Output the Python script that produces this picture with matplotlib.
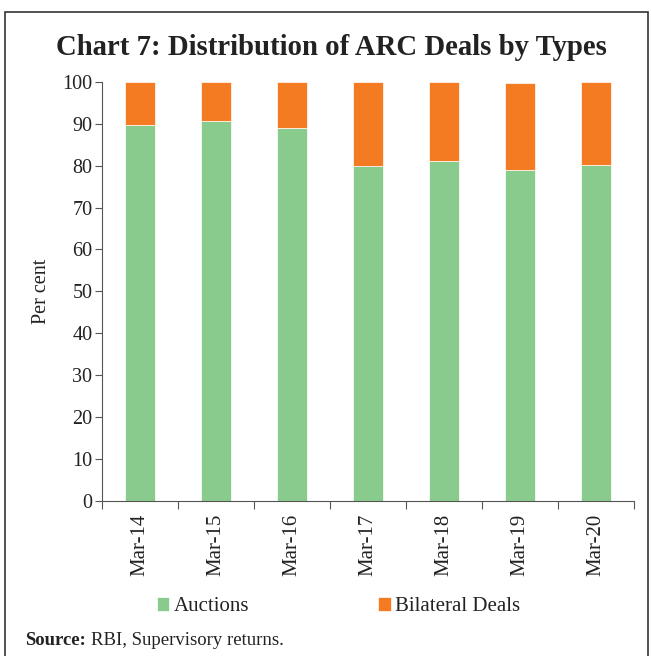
import matplotlib.pyplot as plt
import numpy as np
from matplotlib.patches import Rectangle

# Data (per cent)
years = ['Mar-14', 'Mar-15', 'Mar-16', 'Mar-17', 'Mar-18', 'Mar-19', 'Mar-20']
auctions = [89.8, 90.6, 88.9, 80.0, 81.0, 79.0, 80.2]
bilateral = [10.2, 9.4, 11.1, 20.0, 19.0, 20.8, 19.8]

GREEN = '#89cb8c'
ORANGE = '#f47b22'
TXT = '#222222'
SERIF = ['Liberation Serif', 'DejaVu Serif']

fig = plt.figure(figsize=(6.51, 6.56), dpi=100)
ax = fig.add_axes([0.1567, 0.2363, 0.817, 0.639])

x = np.arange(len(years))
ax.bar(x, auctions, width=0.40, color=GREEN, edgecolor='white', linewidth=0.5, label='Auctions')
ax.bar(x, bilateral, width=0.40, bottom=auctions, color=ORANGE, edgecolor='white', linewidth=0.5,
       label='Bilateral Deals')

ax.set_xlim(-0.5, len(years) - 0.5)
ax.set_ylim(0, 100)
ax.set_yticks(range(0, 101, 10))
ax.set_yticklabels([str(v) for v in range(0, 101, 10)], fontsize=14.5, family=SERIF, color=TXT)
ax.set_ylabel('Per cent', fontsize=14.5, family=SERIF, color=TXT, labelpad=8)

# category ticks at boundaries, labels centred
ax.set_xticks(np.arange(-0.5, len(years)))
ax.set_xticklabels([])
ax.set_xticks(x, minor=True)
ax.set_xticklabels(years, minor=True, rotation=90, fontsize=15, family=SERIF, color=TXT)
ax.tick_params(axis='x', which='minor', length=0, pad=9)
ax.tick_params(axis='x', which='major', length=6, color='#555555')
ax.tick_params(axis='y', length=5, color='#555555', pad=2)

for s in ['top', 'right']:
    ax.spines[s].set_visible(False)
for s in ['left', 'bottom']:
    ax.spines[s].set_color('#555555')

fig.text(0.509, 0.928, 'Chart 7: Distribution of ARC Deals by Types', ha='center', va='center',
         fontsize=20.7, fontweight='bold', family=SERIF, color=TXT)

fig.legend(loc='center', bbox_to_anchor=(0.52, 0.075), ncol=2, frameon=False,
           prop={'family': SERIF, 'size': 15}, handlelength=0.62, handleheight=0.62,
           handletextpad=0.2, columnspacing=6.2, labelcolor=TXT)

fig.text(0.038, 0.023, 'Source:', fontsize=13.5, fontweight='bold', family=SERIF,
         color=TXT, va='center')
fig.text(0.140, 0.023, 'RBI, Supervisory returns.', fontsize=13.5, family=SERIF, color=TXT, va='center')

# frame around the chart
fig.patches.append(Rectangle((0.008, -0.01), 0.987, 0.992, transform=fig.transFigure,
                             fill=False, edgecolor='#333333', linewidth=1.2))

fig.savefig('out.png', dpi=100)
